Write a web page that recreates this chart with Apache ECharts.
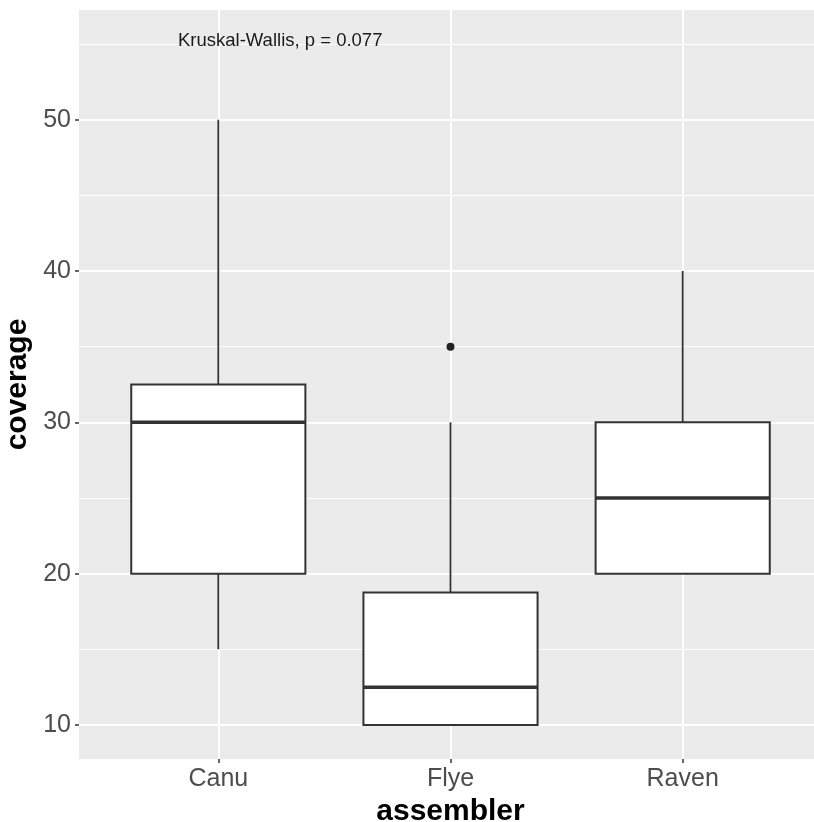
<!DOCTYPE html>
<html>
<head>
<meta charset="utf-8">
<script src="https://cdn.jsdelivr.net/npm/echarts@6/dist/echarts.min.js"></script>
<style>
html,body{margin:0;padding:0;background:#fff;}
#chart{width:814px;height:822px;}
</style>
</head>
<body>
<div id="chart"></div>
<script>
// ---- data ----
const categories = ['Canu', 'Flye', 'Raven'];
const lowerWhisker = [15, 10, 20];
const q1 = [20, 10, 20];
const median = [30, 12.5, 25];
const q3 = [32.5, 18.75, 30];
const upperWhisker = [50, 30, 40];
const outlierCategories = ['Flye'];
const outlierValues = [35];
const yMajorTicks = [10, 20, 30, 40, 50];
const yMinorTicks = [15, 25, 35, 45, 55];
const annotationText = 'Kruskal-Wallis, p = 0.077';

const FONT = '"Liberation Sans", Arial, sans-serif';
const BOX_WIDTH = 0.75;

const boxData = categories.map((c, i) => [i + 1, lowerWhisker[i], q1[i], median[i], q3[i], upperWhisker[i]]);
const outlierData = outlierCategories.map((c, i) => [categories.indexOf(c) + 1, outlierValues[i]]);
const xTickValues = categories.map((c, i) => i + 1);

function renderBox(params, api) {
  const x = api.value(0);
  const pLo = api.coord([x, api.value(1)]);
  const pQ1 = api.coord([x, api.value(2)]);
  const pMed = api.coord([x, api.value(3)]);
  const pQ3 = api.coord([x, api.value(4)]);
  const pHi = api.coord([x, api.value(5)]);
  const unit = api.size([1, 0])[0];
  const half = unit * BOX_WIDTH / 2;
  const cx = pMed[0];
  const stroke = '#333333';
  return {
    type: 'group',
    children: [
      { type: 'line', shape: { x1: cx, y1: pHi[1], x2: cx, y2: pQ3[1] }, style: { stroke: stroke, lineWidth: 1.8 } },
      { type: 'line', shape: { x1: cx, y1: pQ1[1], x2: cx, y2: pLo[1] }, style: { stroke: stroke, lineWidth: 1.8 } },
      { type: 'rect', shape: { x: cx - half, y: pQ3[1], width: 2 * half, height: pQ1[1] - pQ3[1] },
        style: { fill: '#ffffff', stroke: stroke, lineWidth: 2 } },
      { type: 'line', shape: { x1: cx - half, y1: pMed[1], x2: cx + half, y2: pMed[1] },
        style: { stroke: stroke, lineWidth: 3.5 } }
    ]
  };
}

const chart = echarts.init(document.getElementById('chart'), null, { renderer: 'canvas' });
const option = {
  animation: false,
  backgroundColor: '#ffffff',
  textStyle: { fontFamily: FONT },
  title: {
    text: annotationText,
    left: 178,
    top: 31,
    padding: 0,
    textStyle: { fontFamily: FONT, fontSize: 18.5, fontWeight: 'normal', color: '#1a1a1a' }
  },
  grid: {
    left: 79,
    top: 10,
    bottom: 63,
    width: 743,
    show: true,
    backgroundColor: '#EBEBEB',
    borderWidth: 0,
    containLabel: false,
    outerBoundsMode: 'none'
  },
  xAxis: {
    type: 'value',
    min: 0.4,
    max: 3.6,
    name: 'assembler',
    nameLocation: 'middle',
    nameGap: 30,
    nameTextStyle: { fontFamily: FONT, fontSize: 30, fontWeight: 'bold', color: '#000000' },
    axisLine: { show: false },
    axisTick: { show: true, customValues: xTickValues, length: 4, lineStyle: { color: '#333333', width: 1.5 } },
    axisLabel: {
      customValues: xTickValues,
      formatter: function (v) { return categories[Math.round(v) - 1]; },
      margin: 8,
      fontSize: 25,
      color: '#4D4D4D',
      fontFamily: FONT
    },
    splitLine: { show: true, lineStyle: { color: '#ffffff', width: 2 } }
  },
  yAxis: [
    {
      type: 'value',
      min: 7.75,
      max: 57.25,
      name: 'coverage',
      nameLocation: 'middle',
      nameRotate: 90,
      nameGap: 41,
      nameTextStyle: { fontFamily: FONT, fontSize: 30, fontWeight: 'bold', color: '#000000' },
      axisLine: { show: false },
      axisTick: { show: true, customValues: yMajorTicks, length: 4, lineStyle: { color: '#333333', width: 1.5 } },
      axisLabel: { customValues: yMajorTicks, margin: 8, fontSize: 25, color: '#4D4D4D', fontFamily: FONT },
      splitLine: { show: true, lineStyle: { color: '#ffffff', width: 2 } }
    },
    {
      type: 'value',
      min: 7.75,
      max: 57.25,
      position: 'left',
      axisLine: { show: false },
      axisTick: { show: false, customValues: yMinorTicks },
      axisLabel: { show: false, customValues: yMinorTicks },
      splitLine: { show: true, lineStyle: { color: '#ffffff', width: 1 } }
    }
  ],
  series: [
    {
      type: 'custom',
      name: 'box',
      xAxisIndex: 0,
      yAxisIndex: 0,
      renderItem: renderBox,
      encode: { x: 0, y: [1, 2, 3, 4, 5] },
      data: boxData,
      z: 3
    },
    {
      type: 'scatter',
      name: 'outlier',
      xAxisIndex: 0,
      yAxisIndex: 0,
      data: outlierData,
      symbol: 'circle',
      symbolSize: 8,
      itemStyle: { color: '#222222', opacity: 1 },
      z: 4
    }
  ]
};
chart.setOption(option);
</script>
</body>
</html>
